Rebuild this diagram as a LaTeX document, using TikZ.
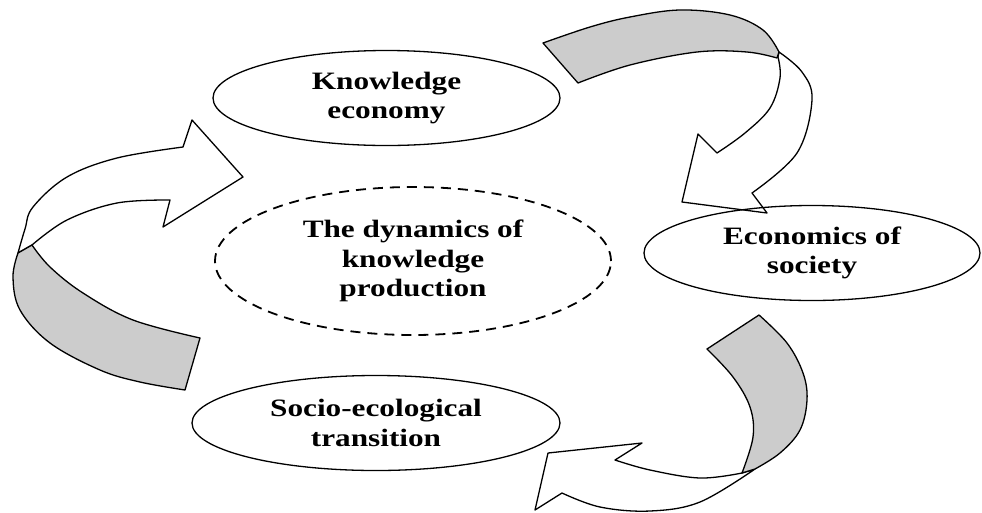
\documentclass[tikz,border=0pt]{standalone}
\usepackage{fontspec}
\newfontfamily\lbl[FakeStretch=1.25]{Liberation Serif}
\usetikzlibrary{shapes.geometric}
\begin{document}
\begin{tikzpicture}[x=1pt,y=-1pt,
  line join=round,
  topic/.style={draw, ellipse, line width=1.3pt, inner xsep=-30pt, inner ysep=0pt, align=center,
    font=\lbl\bfseries\fontsize{25}{29.5}\selectfont},
  core/.style={topic, dash pattern=on 10pt off 7pt, line width=1.8pt},
  face/.style={draw, fill=white, line width=1.3pt},
  band/.style={draw, fill=gray!40, line width=1.3pt},
  crv/.style={smooth, tension=0.6}]
\useasboundingbox (0,0) rectangle (982,512);

% left arrow: front face with head, then the shaded back of the band
\path[face] (18,253) -- plot[crv] coordinates {(18,253) (25,229) (33,207) (67,177) (117,158) (183,147)}
  -- (192,120) -- (243,177) -- (163,227) -- (170,200)
  -- plot[crv] coordinates {(170,200) (117,203) (67,220) (32,245)} -- cycle;
\path[band] (200,338) -- (185,390)
  -- plot[crv] coordinates {(185,390) (140,382) (100,370) (50,343) (20,310) (13,277) (18,253)}
  -- (32,245)
  -- plot[crv] coordinates {(32,245) (50,267) (83,293) (133,320) (200,338)} -- cycle;

% top-right arrow
\path[face] (779,52) -- plot[crv] coordinates {(779,52) (802,72) (812,100) (797,153) (752,193)}
  -- (767,213) -- (682,202) -- (698,134) -- (717,153)
  -- plot[crv] coordinates {(717,153) (745,133) (770,108) (780,78) (778,57)} -- cycle;
\path[band] (543,43)
  -- plot[crv] coordinates {(543,43) (590,27) (630,17) (680,10) (730,15) (763,30) (779,52)}
  -- (777,58)
  -- plot[crv] coordinates {(777,58) (747,52) (697,52) (630,65) (578,83)} -- cycle;

% bottom-right arrow
\path[face] (742,473) -- plot[crv] coordinates {(742,473) (700,478) (650,470) (615,460)}
  -- (642,443) -- (548,453) -- (535,510) -- (562,493)
  -- plot[crv] coordinates {(562,493) (600,507) (650,511) (700,502) (755,469)} -- cycle;
\path[band] (707,349) -- (759,315)
  -- plot[crv] coordinates {(759,315) (787,343) (803,373) (807,400) (800,430) (780,453) (755,469)}
  -- (742,473)
  -- plot[crv] coordinates {(742,473) (753,437) (750,407) (733,377) (707,349)} -- cycle;

% topics
\node[topic, minimum width=347pt, minimum height=95pt] (ke) at (386.5,98) {Knowledge\\economy};
\node[topic, minimum width=336pt, minimum height=95pt] (es) at (812,253) {Economics of\\society};
\node[topic, minimum width=368pt, minimum height=95pt] (st) at (376,423) {Socio-ecological\\transition};
\node[core, minimum width=396pt, minimum height=148pt] (dk) at (413,261) {The dynamics of\\knowledge\\production};
\end{tikzpicture}
\end{document}
